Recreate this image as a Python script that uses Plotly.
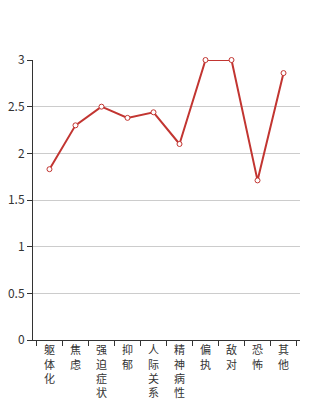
import plotly.graph_objects as go

categories = ["躯体化", "焦虑", "强迫症状", "抑郁", "人际关系", "精神病性", "偏执", "敌对", "恐怖", "其他"]
values = [1.83, 2.30, 2.50, 2.38, 2.44, 2.10, 3.00, 3.00, 1.71, 2.86]
y_ticks = [0, 0.5, 1, 1.5, 2, 2.5, 3]
y_tick_labels = ["0", "0.5", "1", "1.5", "2", "2.5", "3"]

tick_text = ["<br>".join(list(c)) for c in categories]

fig = go.Figure()
fig.add_trace(go.Scatter(
    x=categories, y=values, mode="lines+markers",
    line=dict(color="#c23531", width=2),
    marker=dict(size=5, color="white", line=dict(color="#c23531", width=1)),
    showlegend=False, hoverinfo="x+y", cliponaxis=False,
))

fig.update_layout(
    width=334, height=400,
    margin=dict(l=33, r=34, t=60, b=60),
    paper_bgcolor="white", plot_bgcolor="white",
    font=dict(family="Noto Sans CJK SC, DejaVu Sans, sans-serif", size=12, color="#333"),
)
fig.update_xaxes(
    type="category", tickmode="array", tickvals=categories, ticktext=tick_text,
    tickson="boundaries", ticks="outside", ticklen=5, tickcolor="#333",
    showline=True, linecolor="#333", linewidth=1, showgrid=False,
    tickfont=dict(size=11, color="#333"), tickangle=0, automargin=False,
)
fig.update_yaxes(
    range=[0, 3], tickmode="array", tickvals=y_ticks, ticktext=y_tick_labels,
    ticks="outside", ticklen=5, tickcolor="#333",
    showline=True, linecolor="#333", linewidth=1,
    showgrid=True, gridcolor="#ccc", gridwidth=1, zeroline=False,
    tickfont=dict(size=12, color="#333"), automargin=False,
)

fig.write_html("out.html")
